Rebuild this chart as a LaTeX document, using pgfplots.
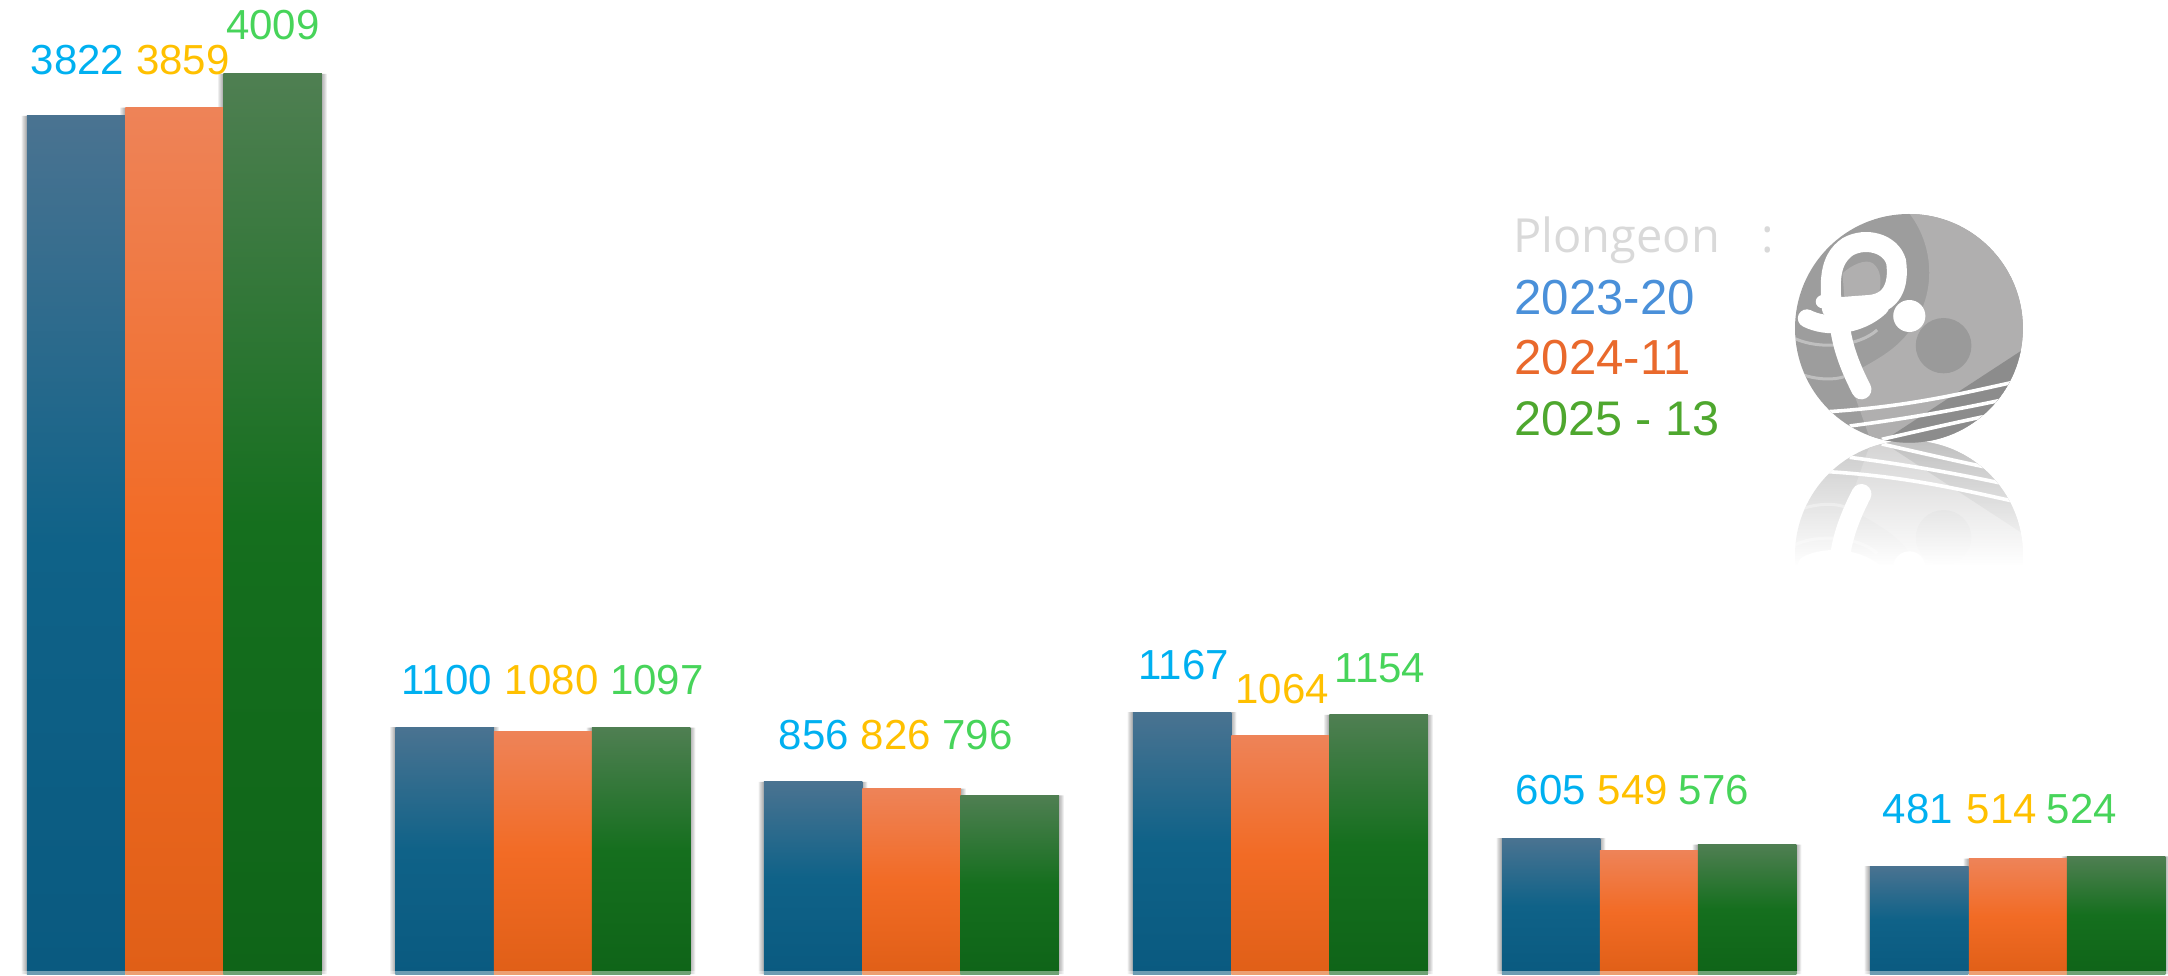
\documentclass[border=0pt]{standalone}
\usepackage{fontspec}
\usepackage{pgfplots}
\usepackage{pgfplotstable}
\pgfplotsset{compat=1.18}
\usetikzlibrary{fadings}
\setmainfont{Liberation Sans}
\newfontfamily\plex{Open Sans}
\definecolor{bt}{HTML}{4A7391}\definecolor{bm}{HTML}{0F6288}\definecolor{bb}{HTML}{0A5A80}
\definecolor{ot}{HTML}{EE8358}\definecolor{om}{HTML}{F26B25}\definecolor{ob}{HTML}{E05F17}
\definecolor{gt}{HTML}{4F7F52}\definecolor{gm}{HTML}{156F1E}\definecolor{gb}{HTML}{0F6418}
\pgfdeclareverticalshading{barblue}{100bp}{color(0bp)=(bb);color(25bp)=(bb);color(50bp)=(bm);color(75bp)=(bt);color(100bp)=(bt)}
\pgfdeclareverticalshading{barorange}{100bp}{color(0bp)=(ob);color(25bp)=(ob);color(50bp)=(om);color(75bp)=(ot);color(100bp)=(ot)}
\pgfdeclareverticalshading{bargreen}{100bp}{color(0bp)=(gb);color(25bp)=(gb);color(50bp)=(gm);color(75bp)=(gt);color(100bp)=(gt)}
\tikzfading[name=reflfade, top color=transparent!55, bottom color=transparent!0]
\pgfplotstableread{
xb a xo b xg c
76 3822 174.5 3859 272.5 4009
444.5 1100 543 1080 641 1097
813 856 911.5 826 1009.5 796
1182 1167 1280.5 1064 1378.5 1154
1551 605 1649 549 1747 576
1919 481 2018 514 2116 524
}\bars
\newcommand{\logo}{%
  \begin{scope}
    \clip (1201,415) ellipse [x radius=319, y radius=343];
    \fill[color={rgb,255:red,157;green,157;blue,157}] (860,50) rectangle (1540,780);
    \fill[color={rgb,255:red,176;green,175;blue,175}] (1185,50) .. controls (1260,130) and (1300,300) .. (1190,440)
       .. controls (1150,490) and (1090,520) .. (1060,540) -- (1050,620) -- (1100,770) -- (1540,770) -- (1540,50) -- cycle;
    \fill[color={rgb,255:red,140;green,140;blue,140}] (1530,472) -- (1130,752) -- (1180,780) -- (1540,780) -- cycle;
    \fill[color={rgb,255:red,154;green,154;blue,154}] (1298,467) ellipse [x radius=78, y radius=83];
    \draw[white, opacity=.35, line width=1.5pt] (880,445) .. controls (950,480) and (1060,470) .. (1112,420);
    \draw[white, opacity=.35, line width=1.5pt] (905,555) .. controls (950,570) and (990,570) .. (1020,560);
    \draw[white, line width=1.8pt] (975,665) .. controls (1200,650) and (1350,610) .. (1500,575);
    \draw[white, line width=1.8pt] (1035,708) .. controls (1200,685) and (1330,660) .. (1470,628);
    \draw[white, line width=1.8pt] (1125,748) .. controls (1220,725) and (1320,700) .. (1410,680);
    \fill[color={rgb,255:red,176;green,175;blue,175}] (1015,250) .. controls (1040,225) and (1080,205) .. (1100,220)
       .. controls (1125,240) and (1125,280) .. (1115,320) -- (1020,320) -- cycle;
    \draw[white, line width=10pt, line cap=round] (985,355) .. controls (980,280) and (975,210) .. (1030,170)
       .. controls (1080,140) and (1150,160) .. (1165,215) .. controls (1175,290) and (1150,340) .. (1090,345)
       -- (1000,352);
    \draw[white, line width=9pt, line cap=round] (915,385) .. controls (970,415) and (1060,410) .. (1120,350);
    \draw[white, line width=10pt, line cap=round] (1010,425) .. controls (1020,490) and (1045,550) .. (1068,598);
    \fill[white] (960,335) ellipse [x radius=20, y radius=20];
    \fill[white] (1202,378) ellipse [x radius=45, y radius=48];
  \end{scope}}
\pgfplotsset{
  bl/.style={ybar, bar width=49.25pt, bar shift=0pt, draw=none, shade, shading=barblue, forget plot},
  or/.style={ybar, bar width=49.25pt, bar shift=0pt, draw=none, shade, shading=barorange, forget plot},
  gr/.style={ybar, bar width=49.25pt, bar shift=0pt, draw=none, shade, shading=bargreen, forget plot}}
\begin{document}
\begin{tikzpicture}
\useasboundingbox (0,0) rectangle (1084pt,487.5pt);
\begin{axis}[at={(0,0)}, anchor=south west, scale only axis, width=1084pt, height=487.5pt,
  xmin=0, xmax=2168, ymin=-4.45, ymax=4338.5, hide axis, clip=true]
\pgfplotsinvokeforeach{50.4,51.2,52,52.8,53.6,54.4}{
  \addplot[ybar, bar width=#1pt, bar shift=0pt, draw=none, fill=black, fill opacity=.055, forget plot] table[x=xb,y=a]{\bars};
  \addplot[ybar, bar width=#1pt, bar shift=0pt, draw=none, fill=black, fill opacity=.055, forget plot] table[x=xo,y=b]{\bars};
  \addplot[ybar, bar width=#1pt, bar shift=0pt, draw=none, fill=black, fill opacity=.055, forget plot] table[x=xg,y=c]{\bars};
}
\addplot[bl] coordinates {(76,3822)};
\addplot[or] coordinates {(174.5,3859)};
\addplot[gr] coordinates {(272.5,4009)};
\addplot[bl] coordinates {(444.5,1100)};
\addplot[or] coordinates {(543,1080)};
\addplot[gr] coordinates {(641,1097)};
\addplot[bl] coordinates {(813,856)};
\addplot[or] coordinates {(911.5,826)};
\addplot[gr] coordinates {(1009.5,796)};
\addplot[bl] coordinates {(1182,1167)};
\addplot[or] coordinates {(1280.5,1064)};
\addplot[gr] coordinates {(1378.5,1154)};
\addplot[bl] coordinates {(1551,605)};
\addplot[or] coordinates {(1649,549)};
\addplot[gr] coordinates {(1747,576)};
\addplot[bl] coordinates {(1919,481)};
\addplot[or] coordinates {(2018,514)};
\addplot[gr] coordinates {(2116,524)};
\end{axis}
\begin{scope}[shift={(0,487.5pt)}, x=0.5pt, y=-0.5pt, every node/.style={inner sep=0pt, anchor=base}]
  \fill[white, opacity=.4] (0,971) rectangle (2168,975);
  \def\lab#1#2#3#4{\node[text=#4, font=\fontsize{21}{21}\selectfont] at (#1,#2) {#3};}
  \definecolor{la}{HTML}{00B0F0}\definecolor{lb}{HTML}{FFC000}\definecolor{lc}{HTML}{47D45A}
  \lab{77.5}{75}{3822}{la}\lab{183}{75}{3859}{lb}\lab{273}{40}{4009}{lc}
  \lab{446.6}{695}{1100}{la}\lab{551.7}{695}{1080}{lb}\lab{656.8}{695}{1097}{lc}
  \lab{814}{749}{856}{la}\lab{896}{749}{826}{lb}\lab{977.6}{749}{796}{lc}
  \lab{1183.6}{680}{1167}{la}\lab{1282}{704}{1064}{lb}\lab{1380}{683}{1154}{lc}
  \lab{1551}{805}{605}{la}\lab{1633}{805}{549}{lb}\lab{1714}{805}{576}{lc}
  \lab{1918}{823}{481}{la}\lab{2002}{823}{514}{lb}\lab{2082}{823}{524}{lc}
  \node[anchor=base west, text={rgb,255:red,217;green,217;blue,217}, font=\plex\fontsize{23.5}{23.5}\selectfont] at (1513,253) {Plongeon};
  \node[anchor=base west, text={rgb,255:red,217;green,217;blue,217}, font=\plex\fontsize{23.5}{23.5}\selectfont] at (1761,253) {:};
  \node[anchor=base west, text={rgb,255:red,74;green,144;blue,217}, font=\fontsize{24.6}{24.6}\selectfont] at (1514,315) {2023-20};
  \node[anchor=base west, text={rgb,255:red,233;green,105;blue,44}, font=\fontsize{24.6}{24.6}\selectfont] at (1514,375) {2024-11};
  \node[anchor=base west, text={rgb,255:red,78;green,167;blue,46}, font=\fontsize{24.3}{24.3}\selectfont] at (1514,436) {2025 - 13};
  \begin{scope}[shift={(1480,190)}, x=0.17857pt, y=-0.16667pt]
    \begin{scope}[shift={(0,1510)}, yscale=-1]
      \logo
    \end{scope}
    \fill[white, path fading=reflfade] (860,750) rectangle (1540,1125);
    \fill[white] (860,1124) rectangle (1540,1450);
    \logo
  \end{scope}
\end{scope}
\end{tikzpicture}
\end{document}
